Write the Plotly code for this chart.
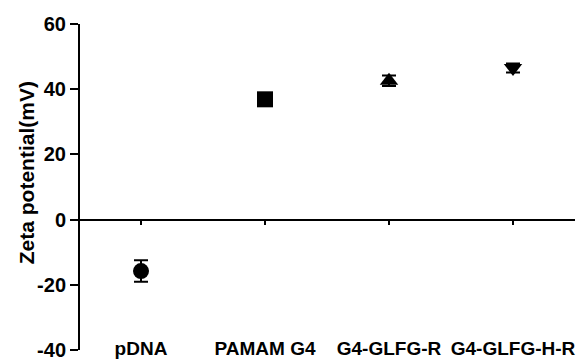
import plotly.graph_objects as go

categories = ["pDNA", "PAMAM G4", "G4-GLFG-R", "G4-GLFG-H-R"]
zeta_mean = [-15.8, 36.9, 42.6, 46.5]
zeta_err = [3.3, 1.5, 1.6, 1.4]
marker_symbols = ["circle", "square", "triangle-up", "triangle-down"]
y_tick_values = [-40, -20, 0, 20, 40, 60]
y_tick_labels = ["-40", "-20", "0", "20", "40", "60"]

positions = list(range(len(categories)))
FONT = "Liberation Sans, Arial, sans-serif"

fig = go.Figure()
fig.add_trace(go.Scatter(
    x=positions, y=zeta_mean, mode="markers",
    marker=dict(symbol=marker_symbols, size=16, color="black", opacity=1),
    error_y=dict(type="data", array=zeta_err, visible=True,
                 color="black", thickness=2, width=7),
    showlegend=False, hoverinfo="skip",
))
# trace for the zero-line axis
fig.add_trace(go.Scatter(x=[], y=[], xaxis="x2", yaxis="y", showlegend=False))

fig.update_layout(
    width=577, height=352,
    margin=dict(l=71, r=10, t=16, b=10),
    paper_bgcolor="white", plot_bgcolor="white",
    font=dict(family=FONT, color="black"),
    xaxis=dict(
        range=[-0.5, len(categories) - 0.5],
        tickvals=positions, ticktext=categories,
        tickfont=dict(size=19, family=FONT, weight="bold"),
        showline=False, ticks="", showgrid=False, zeroline=False,
        anchor="free", position=0.045, automargin=False,
        ticklabeloverflow="allow",
    ),
    xaxis2=dict(
        range=[-0.5, len(categories) - 0.5],
        tickvals=positions, showticklabels=False,
        overlaying="x", anchor="free", position=0.4, automargin=False,
        showline=True, linecolor="black", linewidth=2,
        ticks="outside", ticklen=4, tickwidth=2, tickcolor="black",
        showgrid=False, zeroline=False,
    ),
    yaxis=dict(
        range=[-40, 60], automargin=False,
        anchor="free", position=0,
        tickvals=y_tick_values, ticktext=y_tick_labels,
        tickfont=dict(size=20, family=FONT, weight="bold"),
        showline=True, linecolor="black", linewidth=2,
        ticks="outside", ticklen=8, tickwidth=2, tickcolor="black",
        showgrid=False, zeroline=False, ticklabeloverflow="allow",
    ),
    annotations=[dict(
        text="Zeta potential(mV)", textangle=-90,
        xref="paper", yref="paper", x=-0.107, y=0.545,
        xanchor="center", yanchor="middle", showarrow=False,
        font=dict(size=21, family=FONT, weight="bold", color="black"),
    )],
)

fig.write_html("out.html")
